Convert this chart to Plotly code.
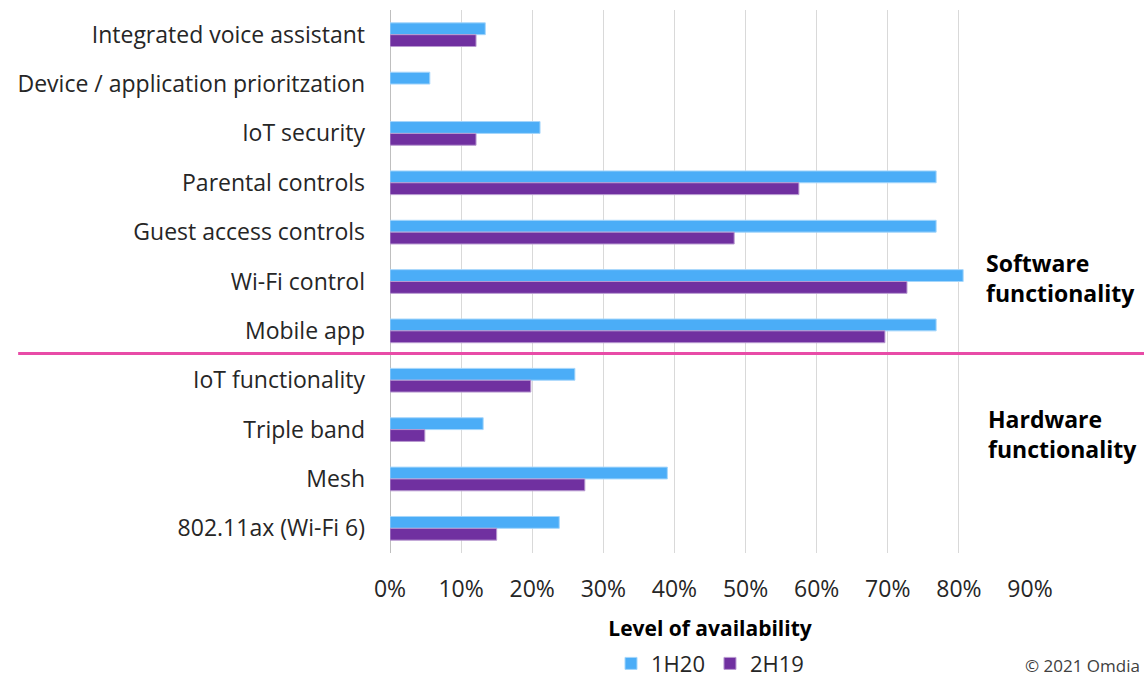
import plotly.graph_objects as go

# Router feature availability, listed top to bottom
features = [
    "Integrated voice assistant",
    "Device / application prioritzation",
    "IoT security",
    "Parental controls",
    "Guest access controls",
    "Wi-Fi control",
    "Mobile app",
    "IoT functionality",
    "Triple band",
    "Mesh",
    "802.11ax (Wi-Fi 6)",
]
avail_1h20 = [0.134, 0.056, 0.211, 0.768, 0.768, 0.806, 0.768, 0.260, 0.131, 0.390, 0.238]
avail_2h19 = [0.121, None, 0.121, 0.575, 0.484, 0.727, 0.696, 0.198, 0.049, 0.274, 0.150]

x_ticks = [0, 0.1, 0.2, 0.3, 0.4, 0.5, 0.6, 0.7, 0.8, 0.9]

FONT = "'Open Sans', sans-serif"
BLUE = "#4badf7"
PURPLE = "#7030a0"
PINK = "#e84ba7"

fig = go.Figure()
fig.add_trace(go.Bar(
    y=features, x=avail_1h20, name="1H20", orientation="h",
    marker=dict(color=BLUE, line=dict(color="#a5d6fb", width=1)),
))
fig.add_trace(go.Bar(
    y=features, x=avail_2h19, name="2H19", orientation="h",
    marker=dict(color=PURPLE, line=dict(color="#b89ad0", width=1)),
))

# Divider between software and hardware groups
fig.add_shape(
    type="line", xref="paper", yref="y",
    x0=-0.581, x1=1.18, y0=6.46, y1=6.46,
    line=dict(color=PINK, width=3), layer="above",
)

group_font = dict(family=FONT, size=23, color="#000000")
fig.add_annotation(
    text="<b>Software<br>functionality</b>", xref="paper", yref="paper",
    x=0.928, y=0.506, xanchor="left", yanchor="middle", align="left",
    showarrow=False, font=group_font,
)
fig.add_annotation(
    text="<b>Hardware<br>functionality</b>", xref="paper", yref="paper",
    x=0.931, y=0.219, xanchor="left", yanchor="middle", align="left",
    showarrow=False, font=group_font,
)
# Source credit in the bottom-right corner
fig.add_annotation(
    text="© 2021 Omdia", xref="paper", yref="paper",
    x=1.175, y=-0.232, xanchor="right", yanchor="bottom",
    showarrow=False, font=dict(family=FONT, size=17, color="#404040"),
)

fig.update_layout(
    width=1144, height=679,
    margin=dict(l=390, r=114, t=10, b=126, autoexpand=False),
    paper_bgcolor="white", plot_bgcolor="white",
    barmode="group", bargap=0.52, bargroupgap=0,
    font=dict(family=FONT, size=23, color="#262626"),
    showlegend=True,
    legend=dict(
        orientation="h", x=0.5, xanchor="center", y=-0.165, yanchor="top",
        font=dict(family=FONT, size=22, color="#262626"),
        traceorder="normal", itemwidth=30,
    ),
    xaxis=dict(
        range=[0, 0.9], tickvals=x_ticks, tickformat=".0%",
        showgrid=True, gridcolor="#d9d9d9", gridwidth=1,
        zeroline=False, showline=False, ticks="",
        ticklabelstandoff=20, automargin=False,
        title=dict(text="<b>Level of availability</b>", standoff=18,
                   font=dict(family=FONT, size=21, color="#000000")),
    ),
    yaxis=dict(
        autorange="reversed", showgrid=False, zeroline=False,
        showline=False, ticks="", ticklabelstandoff=24, automargin=False,
    ),
)

# Value-axis baseline at 0%
fig.add_shape(
    type="line", xref="x", yref="paper", x0=0, x1=0, y0=0, y1=1,
    line=dict(color="#bfbfbf", width=2), layer="below",
)

fig.write_html("out.html")
